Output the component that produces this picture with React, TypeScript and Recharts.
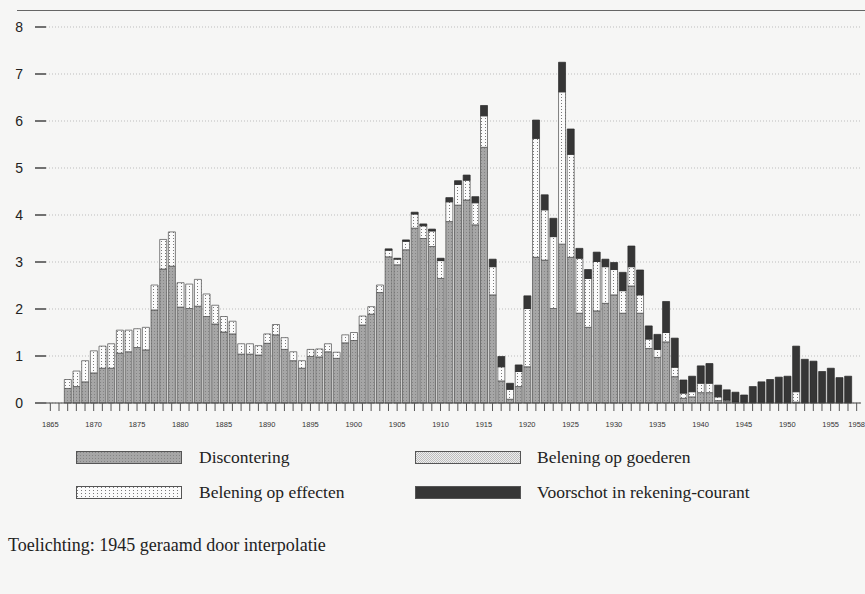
import React from 'react';
import { BarChart, Bar, XAxis, YAxis, CartesianGrid } from 'recharts';

// jaren 1865 t/m 1958 (staven vanaf 1867)
const years = [
  1865, 1866, 1867, 1868, 1869, 1870, 1871, 1872, 1873, 1874,
  1875, 1876, 1877, 1878, 1879, 1880, 1881, 1882, 1883, 1884,
  1885, 1886, 1887, 1888, 1889, 1890, 1891, 1892, 1893, 1894,
  1895, 1896, 1897, 1898, 1899, 1900, 1901, 1902, 1903, 1904,
  1905, 1906, 1907, 1908, 1909, 1910, 1911, 1912, 1913, 1914,
  1915, 1916, 1917, 1918, 1919, 1920, 1921, 1922, 1923, 1924,
  1925, 1926, 1927, 1928, 1929, 1930, 1931, 1932, 1933, 1934,
  1935, 1936, 1937, 1938, 1939, 1940, 1941, 1942, 1943, 1944,
  1945, 1946, 1947, 1948, 1949, 1950, 1951, 1952, 1953, 1954,
  1955, 1956, 1957, 1958,
];

const discontering = [
  0, 0, 0.31, 0.35, 0.45, 0.64, 0.74, 0.74, 1.06, 1.09,
  1.18, 1.13, 1.98, 2.85, 2.91, 2.04, 2.01, 2.06, 1.84, 1.68,
  1.51, 1.47, 1.04, 1.04, 1.02, 1.27, 1.45, 1.14, 0.9, 0.74,
  0.99, 0.98, 1.09, 0.95, 1.28, 1.33, 1.66, 1.89, 2.35, 3.11,
  2.94, 3.26, 3.72, 3.5, 3.33, 2.65, 3.86, 4.21, 4.32, 3.79,
  5.44, 2.3, 0.47, 0.08, 0.35, 0.77, 3.1, 3.04, 2.01, 3.38,
  3.1, 1.91, 1.61, 1.96, 2.12, 2.3, 1.91, 2.49, 1.91, 1.16,
  0.97, 1.3, 0.56, 0.1, 0.13, 0.22, 0.22, 0.05, 0.03, 0.02,
  0, 0, 0, 0, 0, 0, 0.02, 0, 0, 0,
  0, 0, 0, 0,
];

// niet apart te onderscheiden in de staven
const beleningGoederen = [
  0, 0, 0, 0, 0, 0, 0, 0, 0, 0,
  0, 0, 0, 0, 0, 0, 0, 0, 0, 0,
  0, 0, 0, 0, 0, 0, 0, 0, 0, 0,
  0, 0, 0, 0, 0, 0, 0, 0, 0, 0,
  0, 0, 0, 0, 0, 0, 0, 0, 0, 0,
  0, 0, 0, 0, 0, 0, 0, 0, 0, 0,
  0, 0, 0, 0, 0, 0, 0, 0, 0, 0,
  0, 0, 0, 0, 0, 0, 0, 0, 0, 0,
  0, 0, 0, 0, 0, 0, 0, 0, 0, 0,
  0, 0, 0, 0,
];

const beleningEffecten = [
  0, 0, 0.19, 0.33, 0.45, 0.47, 0.47, 0.52, 0.49, 0.46,
  0.4, 0.48, 0.53, 0.63, 0.73, 0.52, 0.52, 0.57, 0.48, 0.4,
  0.33, 0.27, 0.22, 0.22, 0.2, 0.2, 0.22, 0.25, 0.19, 0.16,
  0.15, 0.17, 0.17, 0.13, 0.17, 0.17, 0.19, 0.16, 0.16, 0.14,
  0.12, 0.18, 0.3, 0.27, 0.33, 0.38, 0.42, 0.44, 0.42, 0.47,
  0.67, 0.6, 0.3, 0.21, 0.32, 1.24, 2.53, 1.07, 1.53, 3.24,
  2.19, 1.17, 1.04, 1.05, 0.78, 0.54, 0.48, 0.41, 0.39, 0.2,
  0.17, 0.2, 0.2, 0.11, 0.11, 0.2, 0.2, 0.08, 0.03, 0,
  0, 0, 0, 0, 0, 0, 0.22, 0, 0, 0,
  0, 0, 0, 0,
];

const voorschot = [
  0, 0, 0, 0, 0, 0, 0, 0, 0, 0,
  0, 0, 0, 0, 0, 0, 0, 0, 0, 0,
  0, 0, 0, 0, 0, 0, 0, 0, 0, 0,
  0, 0, 0, 0, 0, 0, 0, 0, 0, 0.03,
  0.02, 0.03, 0.04, 0.04, 0.04, 0.05, 0.09, 0.08, 0.11, 0.13,
  0.22, 0.16, 0.22, 0.13, 0.14, 0.27, 0.39, 0.32, 0.39, 0.63,
  0.54, 0.21, 0.19, 0.2, 0.16, 0.15, 0.39, 0.44, 0.53, 0.28,
  0.32, 0.66, 0.62, 0.28, 0.33, 0.37, 0.42, 0.25, 0.22, 0.21,
  0.17, 0.35, 0.45, 0.5, 0.55, 0.57, 0.97, 0.93, 0.89, 0.67,
  0.74, 0.54, 0.57, 0,
];

const yTicks = [0, 1, 2, 3, 4, 5, 6, 7, 8];
const yearLabels = [
  1865, 1870, 1875, 1880, 1885, 1890, 1895, 1900, 1905, 1910,
  1915, 1920, 1925, 1930, 1935, 1940, 1945, 1950, 1955, 1958,
];

const data = years.map((year, i) => ({
  year,
  disc: discontering[i],
  goed: beleningGoederen[i],
  eff: beleningEffecten[i],
  vrs: voorschot[i],
}));

const serif = '"Liberation Serif", "Times New Roman", serif';
const sans = '"Liberation Sans", Arial, sans-serif';

const Patterns = () => (
  <svg width={0} height={0} style={{ position: 'absolute' }}>
    <defs>
      <pattern id="patDisc" width={3} height={3} patternUnits="userSpaceOnUse">
        <rect width={3} height={3} fill="#a6a6a6" />
        <rect x={1} y={1} width={1} height={1} fill="#848484" />
      </pattern>
      <pattern id="patGoed" width={2} height={2} patternUnits="userSpaceOnUse">
        <rect width={2} height={2} fill="#eeeeee" />
        <rect width={1} height={1} fill="#bdbdbd" />
        <rect x={1} y={1} width={1} height={1} fill="#bdbdbd" />
      </pattern>
      <pattern id="patEff" width={4} height={3} patternUnits="userSpaceOnUse">
        <rect width={4} height={3} fill="#fbfbfb" />
        <rect x={1} y={1} width={1} height={1} fill="#7a7a7a" />
      </pattern>
    </defs>
  </svg>
);

const legendItems = [
  { label: 'Discontering', fill: 'url(#patDisc)', left: 76, textLeft: 199, top: 451 },
  { label: 'Belening op goederen', fill: 'url(#patGoed)', left: 415, textLeft: 537, top: 451 },
  { label: 'Belening op effecten', fill: 'url(#patEff)', left: 76, textLeft: 199, top: 486 },
  { label: 'Voorschot in rekening-courant', fill: '#363636', left: 415, textLeft: 537, top: 486 },
];

export default function App() {
  return (
    <div style={{ position: 'absolute', left: 0, top: 0, width: 865, height: 594, background: '#f6f6f5', overflow: 'hidden' }}>
      <Patterns />
      <div style={{ position: 'absolute', left: 17, top: 10, width: 848, height: 0, borderTop: '1.5px solid #666' }} />
      <div style={{ position: 'absolute', left: 0, top: 0 }}>
        <BarChart width={865} height={440} data={data} margin={{ top: 27, right: 4, left: 0, bottom: 0 }} barSize={7}>
          <CartesianGrid vertical={false} stroke="#bdbdbd" strokeDasharray="1 2" />
          <XAxis
            dataKey="year"
            interval={0}
            height={37}
            tickSize={8}
            tickMargin={11}
            stroke="#444"
            axisLine={{ stroke: '#444', strokeWidth: 1.2 }}
            tickLine={{ stroke: '#555', strokeWidth: 1 }}
            tick={{ fontSize: 7.5, fill: '#333', fontFamily: sans }}
            tickFormatter={(v: number) => (yearLabels.includes(v) ? String(v) : '')}
          />
          <YAxis
            width={46}
            domain={[0, 8]}
            ticks={yTicks}
            axisLine={false}
            tickSize={11}
            tickMargin={12}
            tickLine={{ stroke: '#444', strokeWidth: 1.5 }}
            tick={{ fontSize: 14, fill: '#222', fontFamily: sans }}
          />
          <Bar dataKey="disc" stackId="a" fill="url(#patDisc)" stroke="#4a4a4a" strokeWidth={0.7} isAnimationActive={false} />
          <Bar dataKey="goed" stackId="a" fill="url(#patGoed)" stroke="#4a4a4a" strokeWidth={0.7} isAnimationActive={false} />
          <Bar dataKey="eff" stackId="a" fill="url(#patEff)" stroke="#4a4a4a" strokeWidth={0.7} isAnimationActive={false} />
          <Bar dataKey="vrs" stackId="a" fill="#363636" stroke="#2a2a2a" strokeWidth={0.7} isAnimationActive={false} />
        </BarChart>
      </div>
      {legendItems.map((item) => (
        <React.Fragment key={item.label}>
          <svg style={{ position: 'absolute', left: item.left, top: item.top }} width={106} height={13}>
            <rect x={0.5} y={0.5} width={105} height={12} fill={item.fill} stroke="#555" strokeWidth={1} />
          </svg>
          <div style={{ position: 'absolute', left: item.textLeft, top: item.top - 3, fontFamily: serif, fontSize: 17.5, lineHeight: '18px', color: '#222', whiteSpace: 'nowrap' }}>
            {item.label}
          </div>
        </React.Fragment>
      ))}
      <div style={{ position: 'absolute', left: 8, top: 536, fontFamily: serif, fontSize: 18, lineHeight: '18px', color: '#222', whiteSpace: 'nowrap' }}>
        Toelichting: 1945 geraamd door interpolatie
      </div>
    </div>
  );
}
